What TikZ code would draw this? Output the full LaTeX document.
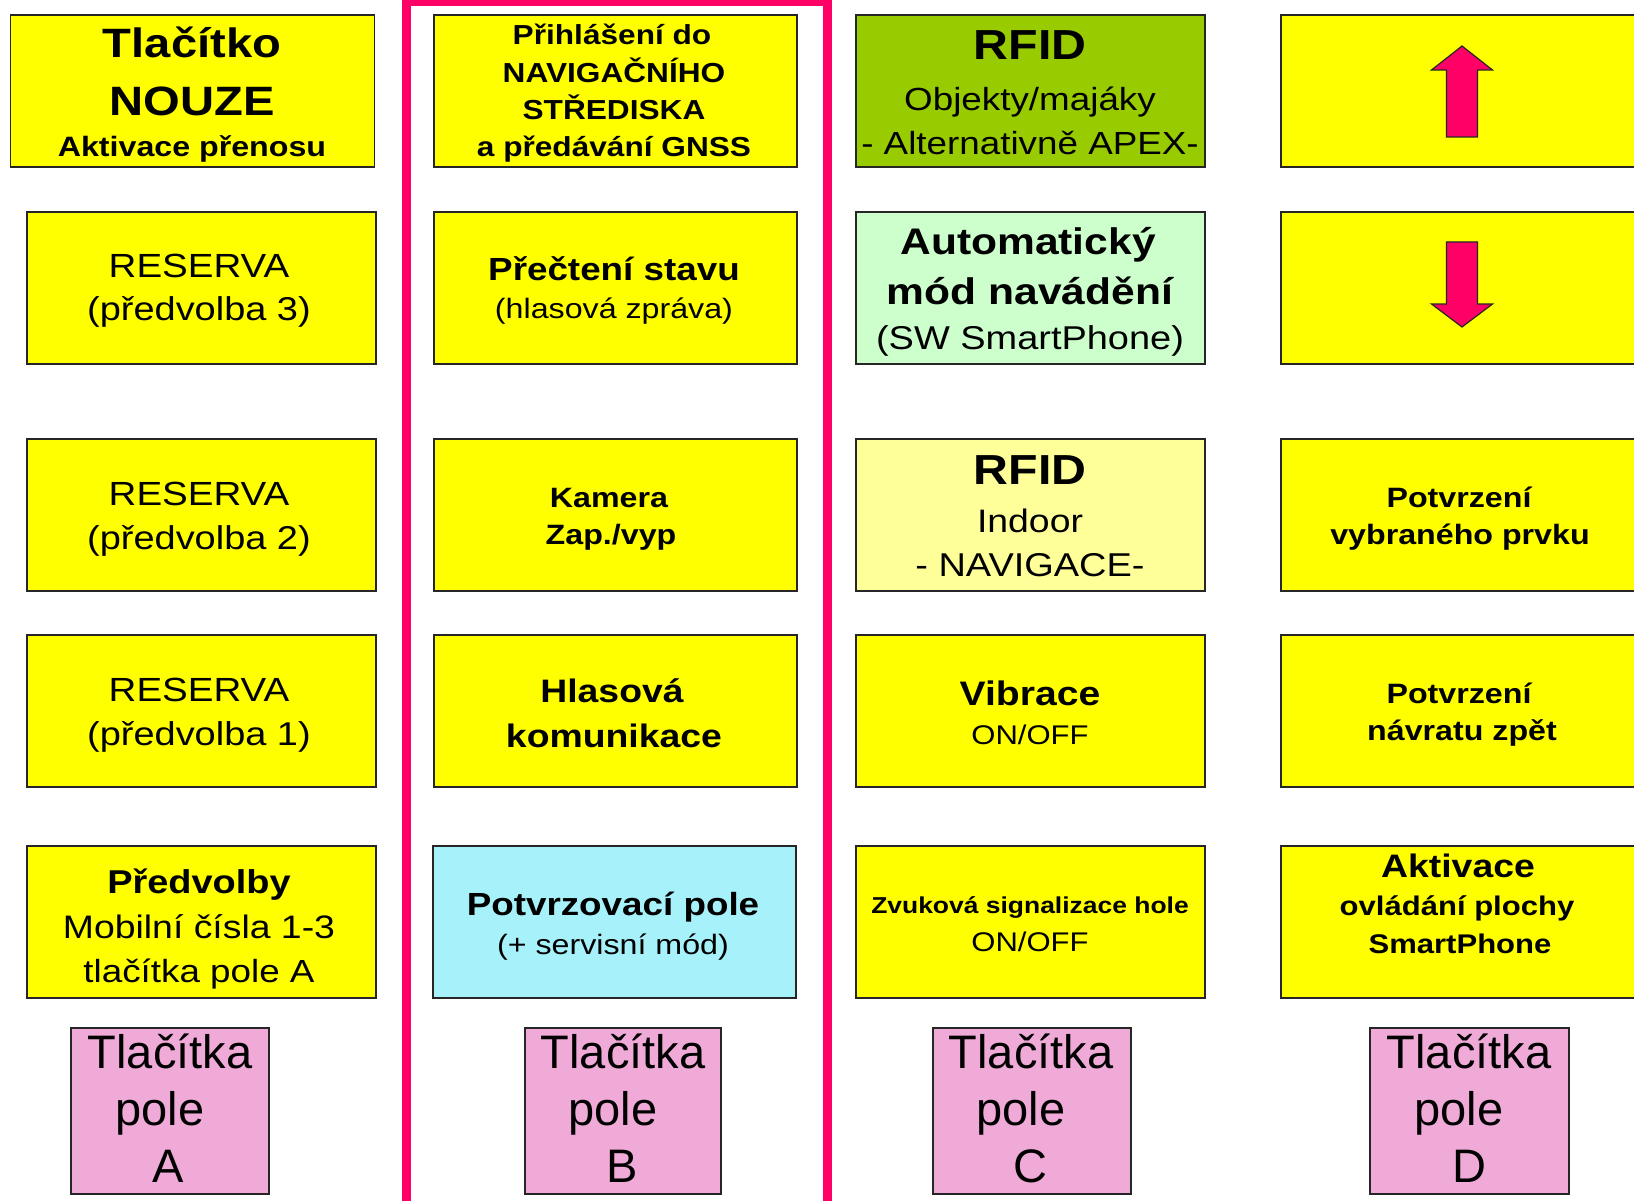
\documentclass[tikz,border=0pt]{standalone}
\usepackage{fontspec}
\setmainfont{Liberation Sans}[FakeStretch=1.15]
\newfontfamily\pinkfont{Liberation Sans}
\definecolor{yel}{HTML}{FFFF00}
\definecolor{grn}{HTML}{99CC00}
\definecolor{lgrn}{HTML}{CCFFCC}
\definecolor{lyel}{HTML}{FFFF99}
\definecolor{cyn}{HTML}{A6F1FA}
\definecolor{pnk}{HTML}{F0AAD8}
\definecolor{frm}{HTML}{FF0066}
\definecolor{bord}{HTML}{262626}
\newcommand\fsb[1]{\fontsize{#1}{#1}\selectfont\bfseries}
\newcommand\fsr[1]{\fontsize{#1}{#1}\selectfont}
\newcommand\fsp[1]{\pinkfont\fontsize{#1}{#1}\selectfont}
\tikzset{
  box/.style={draw=bord, line width=1.5pt, inner sep=0pt, outer sep=0pt, anchor=north west,
    minimum width=#1},
  bigbox/.style={box=#1, minimum height=152pt},
  pinkbox/.style={box=#1, fill=pnk, minimum height=166pt},
  txt/.style={inner sep=0pt, anchor=base},
  frame/.style={draw=frm, line width=9pt},
  arr/.style={fill=frm, draw=bord, line width=1.2pt, line join=miter}
}
\begin{document}
\begin{tikzpicture}[x=1pt, y=-1pt]
\useasboundingbox (0,0) rectangle (1634,1201);
\clip (0,0) rectangle (1634,1201);
\fill[white] (0,0) rectangle (1634,1201);

% column frame
\draw[frame] (406,2) rectangle (827,1230);

% column A
\node[bigbox=364pt, fill=yel] (A1) at (10.5,15) {};
\node[bigbox=349pt, fill=yel] (A2) at (27,212) {};
\node[bigbox=349pt, fill=yel] (A3) at (27,439) {};
\node[bigbox=349pt, fill=yel] (A4) at (27,635) {};
\node[bigbox=349pt, fill=yel] (A5) at (27,846) {};
% column B
\node[bigbox=363pt, fill=yel] (B1) at (434,15) {};
\node[bigbox=363pt, fill=yel] (B2) at (434,212) {};
\node[bigbox=363pt, fill=yel] (B3) at (434,439) {};
\node[bigbox=363pt, fill=yel] (B4) at (434,635) {};
\node[bigbox=363pt, fill=cyn] (B5) at (433,846) {};
% column C
\node[bigbox=349pt, fill=grn] (C1) at (856,15) {};
\node[bigbox=349pt, fill=lgrn] (C2) at (856,212) {};
\node[bigbox=349pt, fill=lyel] (C3) at (856,439) {};
\node[bigbox=349pt, fill=yel] (C4) at (856,635) {};
\node[bigbox=349pt, fill=yel] (C5) at (856,846) {};
% column D
\node[bigbox=356pt, fill=yel] (D1) at (1281,15) {};
\node[bigbox=356pt, fill=yel] (D2) at (1281,212) {};
\node[bigbox=356pt, fill=yel] (D3) at (1281,439) {};
\node[bigbox=356pt, fill=yel] (D4) at (1281,635) {};
\node[bigbox=356pt, fill=yel] (D5) at (1281,846) {};
% pink boxes
\node[pinkbox=198pt] (PA) at (71,1028) {};
\node[pinkbox=196pt] (PB) at (525,1028) {};
\node[pinkbox=198pt] (PC) at (933,1028) {};
\node[pinkbox=199pt] (PD) at (1370,1028) {};

% arrows in D1, D2
\filldraw[arr] (1462,46) -- (1492.5,70) -- (1477.5,70) -- (1477.5,137) -- (1446.5,137) -- (1446.5,70) -- (1431.5,70) -- cycle;
\filldraw[arr] (1462,327) -- (1492.5,304) -- (1477.5,304) -- (1477.5,242) -- (1446.5,242) -- (1446.5,304) -- (1431.5,304) -- cycle;

% texts column A
\node[txt, font=\fsb{41}] (tA1a) at (192,58) {Tlačítko};
\node[txt, font=\fsb{41}] (tA1b) at (192,116) {NOUZE};
\node[txt, font=\fsb{28}] (tA1c) at (192,157) {Aktivace přenosu};
\node[txt, font=\fsr{33.5}] (tA2a) at (199,277) {RESERVA};
\node[txt, font=\fsr{33}] (tA2b) at (199,320) {(předvolba 3)};
\node[txt, font=\fsr{33.5}] (tA3a) at (199,505) {RESERVA};
\node[txt, font=\fsr{33}] (tA3b) at (199,549) {(předvolba 2)};
\node[txt, font=\fsr{33.5}] (tA4a) at (199,701) {RESERVA};
\node[txt, font=\fsr{33}] (tA4b) at (199,745) {(předvolba 1)};
\node[txt, font=\fsb{33}] (tA5a) at (199,893) {Předvolby};
\node[txt, font=\fsr{32.5}] (tA5b) at (199,938) {Mobilní čísla 1-3};
\node[txt, font=\fsr{32}] (tA5c) at (199,982) {tlačítka pole A};

% texts column B
\node[txt, font=\fsb{27.5}] (tB1a) at (612,45) {Přihlášení do};
\node[txt, font=\fsb{27.5}] (tB1b) at (614,83) {NAVIGAČNÍHO};
\node[txt, font=\fsb{27.5}] (tB1c) at (614,120) {STŘEDISKA};
\node[txt, font=\fsb{27.5}] (tB1d) at (614,157) {a předávání GNSS};
\node[txt, font=\fsb{32}] (tB2a) at (614,280) {Přečtení stavu};
\node[txt, font=\fsr{28}] (tB2b) at (614,318) {(hlasová zpráva)};
\node[txt, font=\fsb{28}] (tB3a) at (609,507) {Kamera};
\node[txt, font=\fsb{28}] (tB3b) at (611,544) {Zap./vyp};
\node[txt, font=\fsb{32.5}] (tB4a) at (612,702) {Hlasová};
\node[txt, font=\fsb{32.5}] (tB4b) at (614,747) {komunikace};
\node[txt, font=\fsb{32}] (tB5a) at (613,915) {Potvrzovací pole};
\node[txt, font=\fsr{28}] (tB5b) at (613,954) {(+ servisní mód)};

% texts column C
\node[txt, font=\fsb{42}] (tC1a) at (1030,60) {RFID};
\node[txt, font=\fsr{32}] (tC1b) at (1030,111) {Objekty/majáky};
\node[txt, font=\fsr{32}] (tC1c) at (1030,155) {- Alternativně APEX-};
\node[txt, font=\fsb{37}] (tC2a) at (1028,255) {Automatický};
\node[txt, font=\fsb{37}] (tC2b) at (1030,305) {mód navádění};
\node[txt, font=\fsr{33}] (tC2c) at (1030,349) {(SW SmartPhone)};
\node[txt, font=\fsb{42}] (tC3a) at (1030,484) {RFID};
\node[txt, font=\fsr{32.5}] (tC3b) at (1030,532) {Indoor};
\node[txt, font=\fsr{33}] (tC3c) at (1030,576) {- NAVIGACE-};
\node[txt, font=\fsb{34}] (tC4a) at (1030,705) {Vibrace};
\node[txt, font=\fsr{27}] (tC4b) at (1030,744) {ON/OFF};
\node[txt, font=\fsb{23}] (tC5a) at (1030,913) {Zvuková signalizace hole};
\node[txt, font=\fsr{27}] (tC5b) at (1030,951) {ON/OFF};

% texts column D
\node[txt, font=\fsb{28}] (tD3a) at (1459,507) {Potvrzení};
\node[txt, font=\fsb{28}] (tD3b) at (1460,544) {vybraného prvku};
\node[txt, font=\fsb{28}] (tD4a) at (1459,703) {Potvrzení};
\node[txt, font=\fsb{28}] (tD4b) at (1462,740) {návratu zpět};
\node[txt, font=\fsb{32.5}] (tD5a) at (1458,877) {Aktivace};
\node[txt, font=\fsb{27}] (tD5b) at (1457,915) {ovládání plochy};
\node[txt, font=\fsb{27}] (tD5c) at (1460,953) {SmartPhone};

% texts pink boxes
\node[txt, font=\fsp{47}] (tPAa) at (170,1068) {Tlačítka};
\node[txt, font=\fsp{47}] (tPAb) at (160,1125) {pole};
\node[txt, font=\fsp{47}] (tPAc) at (168,1182) {A};
\node[txt, font=\fsp{47}] (tPBa) at (623,1068) {Tlačítka};
\node[txt, font=\fsp{47}] (tPBb) at (613,1125) {pole};
\node[txt, font=\fsp{47}] (tPBc) at (622,1182) {B};
\node[txt, font=\fsp{47}] (tPCa) at (1031,1068) {Tlačítka};
\node[txt, font=\fsp{47}] (tPCb) at (1021,1125) {pole};
\node[txt, font=\fsp{47}] (tPCc) at (1030,1182) {C};
\node[txt, font=\fsp{47}] (tPDa) at (1469,1068) {Tlačítka};
\node[txt, font=\fsp{47}] (tPDb) at (1459,1125) {pole};
\node[txt, font=\fsp{47}] (tPDc) at (1469,1182) {D};
\end{tikzpicture}
\end{document}
